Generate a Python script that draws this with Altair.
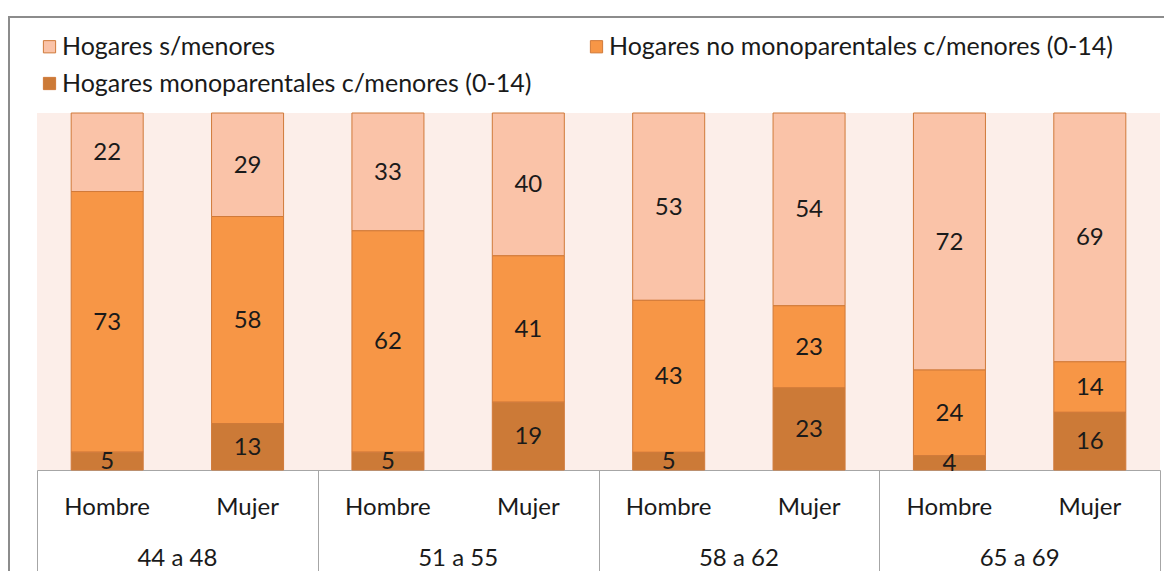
import altair as alt
import pandas as pd

groups = ["44 a 48", "51 a 55", "58 a 62", "65 a 69"]
sexes = ["Hombre", "Mujer"]
series = ["Hogares s/menores",
          "Hogares no monoparentales c/menores (0-14)",
          "Hogares monoparentales c/menores (0-14)"]
colors = ["#FAC3A8", "#F79646", "#CC7A37"]
# bottom-to-top stacking order: mono (0), no mono (1), s/menores (2)
stack_order = [2, 1, 0]

mono = [5, 13, 5, 19, 5, 23, 4, 16]
nomono = [73, 58, 62, 41, 43, 23, 24, 14]
sin_men = [22, 29, 33, 40, 53, 54, 72, 69]

rows = []
i = 0
for g in groups:
    for s in sexes:
        for name, vals, order in zip(series, [sin_men, nomono, mono], stack_order):
            rows.append({"group": g, "sex": s, "serie": name, "value": vals[i], "ord": order})
        i += 1
df = pd.DataFrame(rows)
cats = pd.DataFrame([{"group": g, "sex": s} for g in groups for s in sexes])
gdf = pd.DataFrame({"group": groups})

W, H = 1123, 357
FONT = "Lato"
FS = 24
TXT = "#1a1a1a"
LINE = "#A6A6A6"

xg = alt.X("group:N", scale=alt.Scale(domain=groups, paddingInner=0, paddingOuter=0),
           axis=alt.Axis(labels=False, title=None, domain=True, domainColor=LINE,
                         ticks=True, tickBand="extent", tickSize=110, tickColor=LINE,
                         tickWidth=1, domainWidth=1))
xo = alt.XOffset("sex:N", scale=alt.Scale(domain=sexes, paddingInner=0.487, paddingOuter=0.2435))

stacked = alt.Chart(df).transform_stack(
    stack="value", groupby=["group", "sex"], as_=["y0", "y1"], offset="normalize",
    sort=[alt.SortField("ord", order="ascending")]
).transform_calculate(mid="(datum.y0 + datum.y1) / 2")

bars = stacked.mark_bar(stroke="#D07A3A", strokeWidth=1).encode(
    x=xg,
    xOffset=xo,
    y=alt.Y("y0:Q", scale=alt.Scale(domain=[0, 1]), axis=None),
    y2="y1:Q",
    color=alt.Color("serie:N", scale=alt.Scale(domain=series, range=colors),
                    legend=alt.Legend(title=None, orient="none", legendX=0, legendY=-79,
                                      direction="horizontal", columns=2,
                                      columnPadding=52, rowPadding=11,
                                      symbolType="square", symbolSize=150,
                                      symbolStrokeColor="#D07A3A", symbolStrokeWidth=1,
                                      labelFont=FONT, labelFontSize=25, labelColor=TXT,
                                      labelLimit=700, labelOffset=0, padding=0)),
)

labels = stacked.mark_text(font=FONT, fontSize=FS, color=TXT, baseline="middle", dy=1).encode(
    x=alt.X("group:N"),
    xOffset=alt.XOffset("sex:N"),
    y=alt.Y("mid:Q"),
    text=alt.Text("value:Q"),
)

sex_lab = alt.Chart(cats).mark_text(font=FONT, fontSize=FS, color=TXT, baseline="middle").encode(
    x=alt.X("group:N"),
    xOffset=alt.XOffset("sex:N"),
    y=alt.value(H + 38),
    text="sex:N",
)

grp_lab = alt.Chart(gdf).mark_text(font=FONT, fontSize=FS, color=TXT, baseline="middle").encode(
    x=alt.X("group:N"),
    y=alt.value(H + 89),
    text="group:N",
)

frame = alt.Chart(pd.DataFrame({"k": [0]})).mark_rect(
    filled=False, stroke="#8C8C8C", strokeWidth=2
).encode(
    x=alt.value(-28), x2=alt.value(W + 60), y=alt.value(-96), y2=alt.value(H + 200)
)

chart = alt.layer(frame, bars, labels, sex_lab, grp_lab).properties(
    width=W, height=H,
    padding={"left": 29, "top": 105, "right": 4, "bottom": 101},
    autosize=alt.AutoSizeParams(type="none"),
    background="white",
).configure_view(fill="#FCEEE9", stroke=None)

chart.save("out.html", embed_options={"renderer": "svg", "actions": False})
